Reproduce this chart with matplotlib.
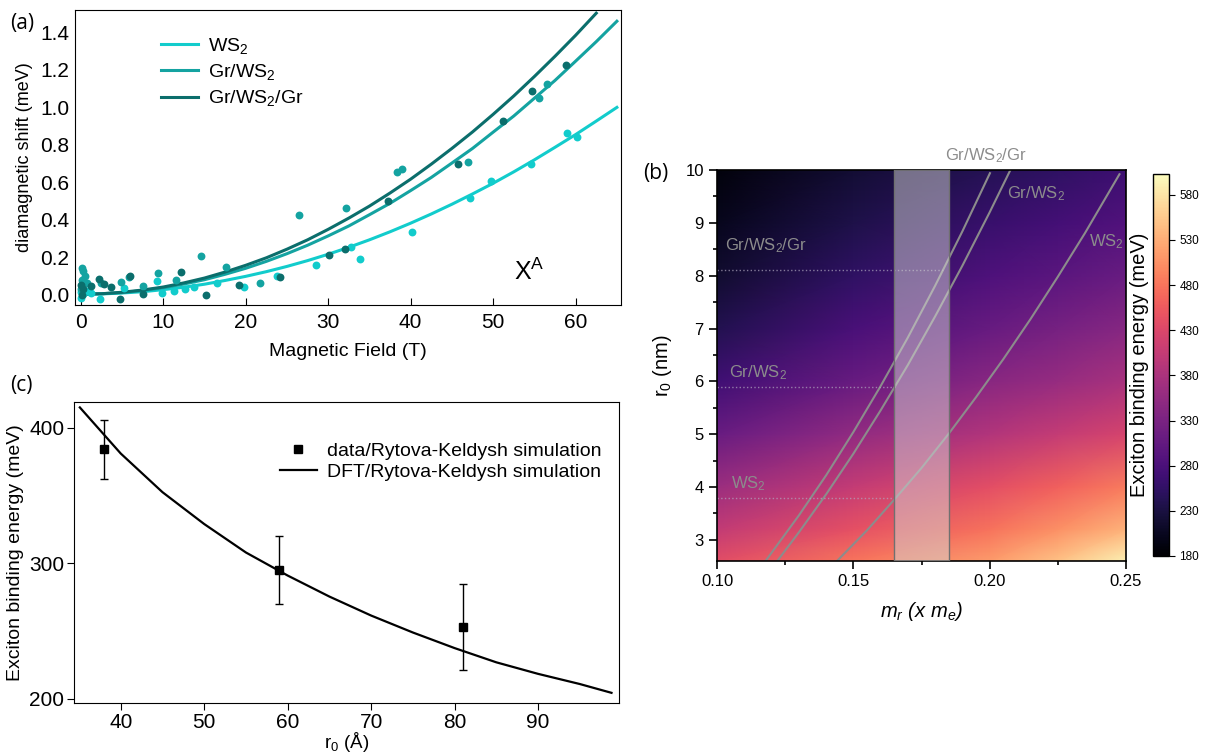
import matplotlib
matplotlib.use("Agg")
import matplotlib.pyplot as plt
import numpy as np
from matplotlib.ticker import MultipleLocator

plt.rcParams["font.family"] = ["Liberation Sans Narrow", "Liberation Sans", "DejaVu Sans"]
plt.rcParams["mathtext.default"] = "regular"
FONT_B = ["Liberation Sans", "DejaVu Sans"]

# ---- (a) diamagnetic shift ----
ws2_B = [0, 0, 0.3, 0.6, 1.2, 2.3, 5.2, 9.3, 9.9, 11.3, 12.6, 13.7, 16.5, 19.8, 23.8,
         28.5, 32.8, 33.9, 40.1, 47.2, 49.7, 54.6, 58.9, 60.2]
ws2_dE = [-0.015, 0.015, 0.005, 0.02, 0.01, -0.025, 0.035, 0.072, 0.008, 0.022, 0.032,
          0.04, 0.063, 0.041, 0.101, 0.16, 0.257, 0.191, 0.335, 0.518, 0.607, 0.7,
          0.865, 0.842]
grws2_B = [0, 0.1, 0.2, 0.3, 0.5, 0.8, 2.4, 4.9, 5.9, 7.5, 9.4, 11.5, 14.6, 17.6, 21.7,
           26.4, 32.2, 38.3, 39.0, 47.0, 55.6, 56.5]
grws2_dE = [0.03, 0.08, 0.145, 0.125, 0.10, 0.06, 0.06, 0.068, 0.095, 0.048, 0.117,
            0.077, 0.205, 0.148, 0.06, 0.428, 0.464, 0.655, 0.669, 0.71, 1.049, 1.127]
grws2gr_B = [0, 0.1, 0.3, 1.3, 2.2, 2.8, 3.7, 4.7, 6.0, 7.5, 12.1, 15.2, 19.2, 24.1,
             30.1, 32.0, 37.2, 45.7, 51.2, 54.7, 58.8]
grws2gr_dE = [0.05, 0.0, 0.03, 0.045, 0.082, 0.058, 0.042, -0.022, 0.1, 0.005, 0.12,
              0.0, 0.053, 0.092, 0.214, 0.245, 0.499, 0.70, 0.927, 1.085, 1.225]

# fitted curves, read every 2.5 T
fit_B = [0, 2.5, 5, 7.5, 10, 12.5, 15, 17.5, 20, 22.5, 25, 27.5, 30, 32.5, 35, 37.5,
         40, 42.5, 45, 47.5, 50, 52.5, 55, 57.5, 60, 62.5, 65]
ws2_fit = [0.003, 0.004, 0.009, 0.016, 0.027, 0.040, 0.056, 0.076, 0.098, 0.123, 0.151,
           0.182, 0.216, 0.253, 0.293, 0.336, 0.382, 0.431, 0.483, 0.538, 0.595, 0.656,
           0.72, 0.787, 0.855, 0.927, 1.0]
grws2_fit = [0.003, 0.005, 0.011, 0.022, 0.037, 0.057, 0.080, 0.109, 0.141, 0.178, 0.219,
             0.264, 0.314, 0.367, 0.427, 0.488, 0.556, 0.626, 0.703, 0.781, 0.868, 0.954,
             1.049, 1.144, 1.247, 1.351, 1.46]
fit_B_gr = fit_B[:-1]
grws2gr_fit = [0.003, 0.005, 0.013, 0.025, 0.041, 0.063, 0.089, 0.121, 0.157, 0.197,
               0.243, 0.293, 0.349, 0.409, 0.473, 0.543, 0.617, 0.697, 0.781, 0.869,
               0.963, 1.061, 1.165, 1.273, 1.385, 1.503]

C_WS2 = "#12cccc"
C_GRWS2 = "#14a3a1"
C_GRWS2GR = "#0b6e6c"

# ---- (b) binding energy map ----
mr_grid = [0.10, 0.15, 0.20, 0.225, 0.25]
r0_grid = [2.6, 3.2, 4, 5, 6, 7, 8, 9, 10]
Eb_grid = [[438, 480, 515, 548, 590],
           [404, 444, 478, 505, 535],
           [364, 406, 440, 462, 486],
           [312, 354, 388, 405, 424],
           [270, 310, 344, 360, 378],
           [240, 278, 310, 326, 342],
           [218, 254, 283, 297, 312],
           [203, 235, 261, 273, 286],
           [189, 220, 243, 254, 266]]

line_grws2gr_mr = [0.1178, 0.13, 0.14, 0.15, 0.16, 0.17, 0.18, 0.19, 0.2001]
line_grws2gr_r0 = [2.60, 3.46, 4.22, 5.04, 5.91, 6.83, 7.81, 8.84, 9.94]
line_grws2_mr = [0.1221, 0.13, 0.14, 0.15, 0.16, 0.17, 0.18, 0.19, 0.20, 0.2075]
line_grws2_r0 = [2.60, 3.14, 3.86, 4.63, 5.45, 6.31, 7.23, 8.19, 9.20, 9.99]
line_ws2_mr = [0.144, 0.155, 0.165, 0.175, 0.185, 0.195, 0.205, 0.215, 0.225, 0.235, 0.2476]
line_ws2_r0 = [2.60, 3.18, 3.76, 4.36, 5.01, 5.70, 6.42, 7.18, 7.98, 8.81, 9.92]

r0_levels = [8.1, 5.9, 3.8]
r0_level_end = [0.183, 0.166, 0.165]

# ---- (c) binding energy vs r0 ----
r0_data = [38, 59, 81]
Eb_data = [384, 295, 253]
Eb_err = [22, 25, 32]
r0_line = [35.1, 40, 45, 50, 55, 60, 65, 70, 75, 80, 85, 90, 95, 98.8]
Eb_line = [415, 381, 352.5, 329, 308, 291, 275.5, 261.5, 249, 237.5, 227, 218.5, 211, 204.5]

W, H = 1208, 753
fig = plt.figure(figsize=(W / 100, H / 100), dpi=100)


def box(l, t, r, b):
    return [l / W, 1 - b / H, (r - l) / W, (b - t) / H]


# ===== panel (a) =====
ax = fig.add_axes(box(75, 10, 621, 305))
ax.scatter(ws2_B, ws2_dE, s=32, color=C_WS2, zorder=3, linewidths=0)
ax.scatter(grws2_B, grws2_dE, s=32, color=C_GRWS2, zorder=3, linewidths=0)
ax.scatter(grws2gr_B, grws2gr_dE, s=32, color=C_GRWS2GR, zorder=3, linewidths=0)
ax.plot(fit_B, ws2_fit, color=C_WS2, lw=2.2, label="WS$_2$")
ax.plot(fit_B, grws2_fit, color=C_GRWS2, lw=2.2, label="Gr/WS$_2$")
ax.plot(fit_B_gr, grws2gr_fit, color=C_GRWS2GR, lw=2.2, label="Gr/WS$_2$/Gr")
ax.set_xlim(-0.7, 65.5)
ax.set_ylim(-0.055, 1.52)
ax.set_xticks(range(0, 61, 10))
ax.set_yticks(np.arange(0, 1.41, 0.2))
ax.yaxis.set_major_formatter(plt.FuncFormatter(lambda v, _: f"{v:.1f}"))
ax.tick_params(axis="x", direction="in", length=5, labelsize=15, pad=6)
ax.tick_params(axis="y", length=0, labelsize=15, pad=4)
ax.set_xlabel("Magnetic Field (T)", fontsize=14, labelpad=8)
ax.set_ylabel("diamagnetic shift (meV)", fontsize=13, labelpad=5)
ax.text(52.5, 0.08, "X$^A$", fontsize=18)
ax.legend(loc="upper left", bbox_to_anchor=(0.158, 0.912), frameon=False, fontsize=14,
          handlelength=1.9, handletextpad=0.5, labelspacing=0.32, borderaxespad=0,
          borderpad=0)
fig.text(10 / W, 1 - 24 / H, "(a)", fontsize=15, va="center", family=["Open Sans", "DejaVu Sans"])

# ===== panel (b) =====
axb = fig.add_axes(box(717, 170, 1126, 561))
MR, R0 = np.meshgrid(mr_grid, r0_grid)
mesh = axb.pcolormesh(MR, R0, np.array(Eb_grid), cmap="magma", vmin=180, vmax=603,
                      shading="gouraud", zorder=1)
axb.plot(line_grws2gr_mr, line_grws2gr_r0, color="#8c8c8c", lw=1.5, zorder=2)
axb.plot(line_grws2_mr, line_grws2_r0, color="#8c8c8c", lw=1.5, zorder=2)
axb.plot(line_ws2_mr, line_ws2_r0, color="#8c8c8c", lw=1.5, zorder=2)
for lev, end in zip(r0_levels, r0_level_end):
    axb.plot([0.10, end], [lev, lev], color="#b0a8c0", lw=1, ls=":", alpha=0.7, zorder=2)
axb.axvspan(0.165, 0.185, facecolor="#d4d4d4", alpha=0.5, edgecolor="none", zorder=3)
axb.axvline(0.165, color="#707070", lw=1, zorder=3)
axb.axvline(0.185, color="#707070", lw=1, zorder=3)
axb.set_xlim(0.10, 0.25)
axb.set_ylim(2.6, 10)
axb.set_xticks([0.10, 0.15, 0.20, 0.25])
axb.xaxis.set_major_formatter(plt.FuncFormatter(lambda v, _: f"{v:.2f}"))
axb.set_yticks(range(3, 11))
axb.xaxis.set_minor_locator(MultipleLocator(0.025))
axb.yaxis.set_minor_locator(MultipleLocator(0.5))
axb.tick_params(which="major", direction="out", length=6, width=1.2, labelsize=12,
                labelfontfamily="Liberation Sans")
axb.tick_params(which="minor", direction="out", length=3, width=1.2)
for s in axb.spines.values():
    s.set_linewidth(1.2)
axb.set_xlabel("m$_r$ (x m$_e$)", fontsize=14.5, style="italic", family=FONT_B, labelpad=8)
axb.set_ylabel("r$_0$ (nm)", fontsize=14.5, family=FONT_B, labelpad=8)
lab_kw = dict(color="#8c8c8c", fontsize=12, family=FONT_B, zorder=4)
axb.text(0.1028, 8.56, "Gr/WS$_2$/Gr", va="center", **lab_kw)
axb.text(0.1045, 6.17, "Gr/WS$_2$", va="center", **lab_kw)
axb.text(0.1050, 4.07, "WS$_2$", va="center", **lab_kw)
axb.text(0.1987, 10.28, "Gr/WS$_2$/Gr", ha="center", va="center", clip_on=False, **lab_kw)
axb.text(0.2170, 9.56, "Gr/WS$_2$", ha="center", va="center", **lab_kw)
axb.text(0.2428, 8.64, "WS$_2$", ha="center", va="center", **lab_kw)
fig.text(643 / W, 1 - 173 / H, "(b)", fontsize=15, va="center", family=["Open Sans", "DejaVu Sans"])

cax = fig.add_axes(box(1153, 174, 1169, 556))
cb = fig.colorbar(mesh, cax=cax, ticks=range(180, 600, 50))
cax.tick_params(labelsize=8.5, length=4, labelfontfamily="Liberation Sans")
cb.set_label("Exciton binding energy (meV)", fontsize=14.5, family=FONT_B, labelpad=3)
cax.yaxis.set_label_position("left")
cb.outline.set_linewidth(1)

# ===== panel (c) =====
axc = fig.add_axes(box(74, 402, 619, 703))
axc.errorbar(r0_data, Eb_data, yerr=Eb_err, fmt="none", ecolor="black",
             elinewidth=1, capsize=3, capthick=1)
axc.plot(r0_data, Eb_data, "s", color="black", ms=6, ls="none",
         label="data/Rytova-Keldysh simulation")
axc.plot(r0_line, Eb_line, color="black", lw=1.6, label="DFT/Rytova-Keldysh simulation")
axc.set_xlim(34.4, 99.7)
axc.set_ylim(197, 419)
axc.set_xticks(range(40, 100, 10))
axc.set_yticks([200, 300, 400])
axc.tick_params(direction="out", length=5, labelsize=15, pad=2)
axc.set_xlabel("r$_0$ (Å)", fontsize=13.5, labelpad=-1)
axc.set_ylabel("Exciton binding energy (meV)", fontsize=14, labelpad=4)
axc.legend(loc="upper right", bbox_to_anchor=(0.967, 0.867), frameon=False,
           fontsize=14, handlelength=1.9, handletextpad=0.5, labelspacing=0.2,
           borderaxespad=0, borderpad=0)
fig.text(10 / W, 1 - 385 / H, "(c)", fontsize=15, va="center", family=["Open Sans", "DejaVu Sans"])

fig.savefig("out.png", dpi=100)
